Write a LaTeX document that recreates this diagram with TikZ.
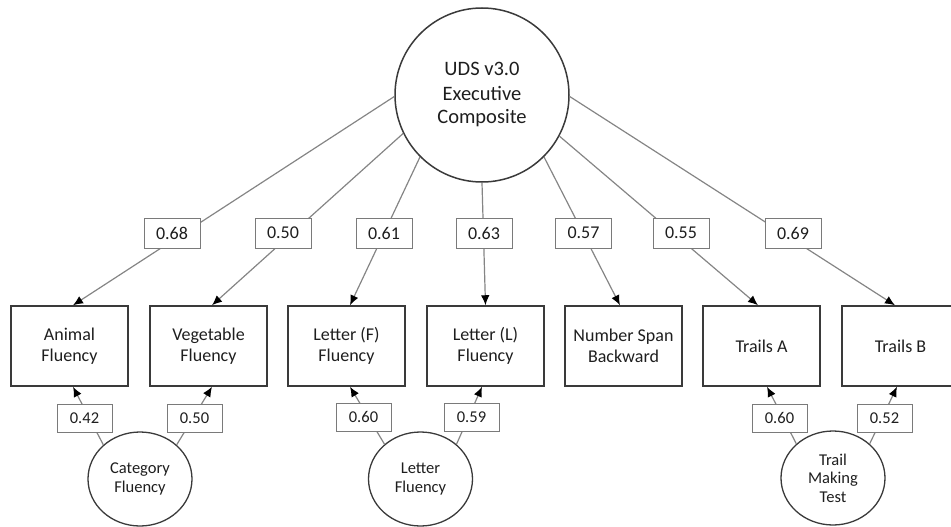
\documentclass[tikz,border=0pt]{standalone}
\usepackage{fontspec}
\setmainfont{Carlito}
\usetikzlibrary{arrows.meta,shapes.geometric}
\definecolor{txt}{HTML}{1E1E1E}
\definecolor{boxc}{HTML}{3A3A3A}
\definecolor{linec}{HTML}{858585}
\definecolor{labc}{HTML}{7A7A7A}
\begin{document}
\begin{tikzpicture}[x=1pt,y=-1pt,
  obs/.style={draw=boxc, line width=1.5pt, minimum width=117pt, minimum height=80pt, align=center, text=txt, inner sep=0pt, font=\fontsize{18}{20.5}\selectfont},
  lat/.style={ellipse, draw=boxc, line width=1.3pt, minimum width=104pt, minimum height=94pt, inner sep=0pt, align=center, text=txt, font=\fontsize{16.5}{18.5}\selectfont},
  lab/.style={draw=labc, fill=white, line width=1pt, minimum width=56pt, minimum height=30pt, inner sep=0pt, text=txt, font=\fontsize{18}{20}\selectfont},
  slab/.style={lab, minimum width=55pt, minimum height=28pt, font=\fontsize{16.5}{18}\selectfont},
  conn/.style={draw=linec, line width=1.2pt, -{Latex[length=10pt,width=8.5pt,color=black]}},
]
\useasboundingbox (0,0) rectangle (951,527);
\clip (0,0) rectangle (951,527);

% main latent
\node[circle, draw=boxc, line width=1.5pt, minimum size=174pt, inner sep=0pt, align=center, text=txt, font=\fontsize{20.5}{24}\selectfont] (C) at (482,95) {UDS v3.0\\Executive\\Composite};

% observed
\node[obs] (b1) at (69.5,346) {Animal\\Fluency};
\node[obs] (b2) at (208.5,346) {Vegetable\\Fluency};
\node[obs] (b3) at (346.5,346) {Letter (F)\\Fluency};
\node[obs] (b4) at (485.5,346) {Letter (L)\\Fluency};
\node[obs] (b5) at (623.5,346) {Number Span\\Backward};
\node[obs] (b6) at (761.5,346) {Trails A};
\node[obs] (b7) at (900.5,346) {Trails B};

% sub latents
\node[lat] (L1) at (140,479) {Category\\Fluency};
\node[lat] (L2) at (420.5,479) {Letter\\Fluency};
\node[lat] (L3) at (833,478) {Trail\\Making\\Test};

% top connectors
\draw[conn] (C.181) -- ([xshift=3.5pt]b1.north);
\draw[conn] (C.206) -- ([xshift=3.5pt]b2.north);
\draw[conn] (C.225) -- ([xshift=3.5pt]b3.north);
\draw[conn] (C.270) -- (b4.north);
\draw[conn] (C.315) -- ([xshift=-3.5pt]b5.north);
\draw[conn] (C.332) -- ([xshift=-3.5pt]b6.north);
\draw[conn] (C.359) -- ([xshift=-5.5pt]b7.north);

% bottom connectors
\draw[conn] (L1.137) -- ([xshift=3.5pt]b1.south);
\draw[conn] (L1.43) -- ([xshift=3.5pt]b2.south);
\draw[conn] (L2.136) -- ([xshift=3.5pt]b3.south);
\draw[conn] (L2.44) -- ([xshift=-3.5pt]b4.south);
\draw[conn] (L3.137) -- ([xshift=5.5pt]b6.south);
\draw[conn] (L3.43) -- ([xshift=-3.5pt]b7.south);

% loading labels
\node[lab] (t1) at (172,233) {0.68};
\node[lab] (t2) at (283,233) {0.50};
\node[lab] (t3) at (384,233) {0.61};
\node[lab] (t4) at (484,233) {0.63};
\node[lab] (t5) at (583.5,233) {0.57};
\node[lab] (t6) at (681,233) {0.55};
\node[lab] (t7) at (793,233) {0.69};

\node[slab] (s1) at (84.5,418) {0.42};
\node[slab] (s2) at (194.5,418) {0.50};
\node[slab] (s3) at (363.5,417) {0.60};
\node[slab] (s4) at (471.5,417) {0.59};
\node[slab] (s5) at (779.5,418) {0.60};
\node[slab] (s6) at (884.5,418) {0.52};
\end{tikzpicture}
\end{document}
